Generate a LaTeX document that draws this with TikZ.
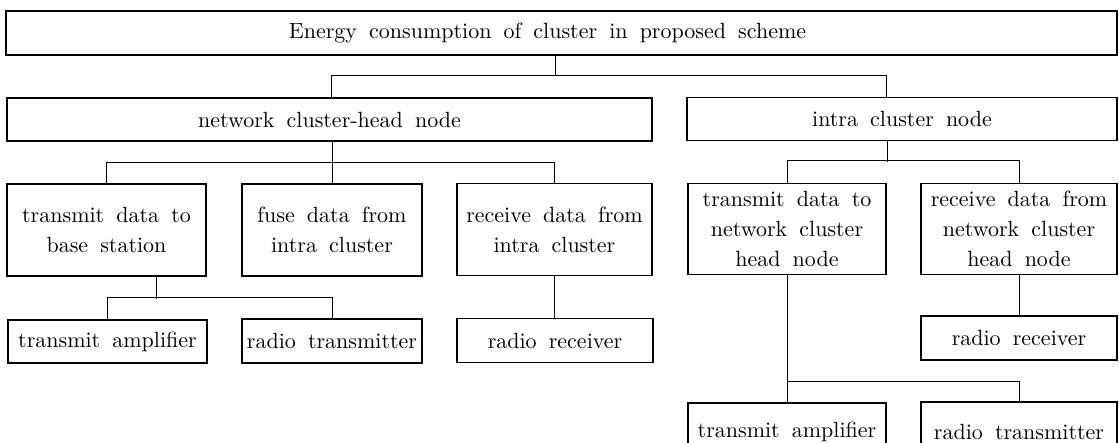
\documentclass[tikz,border=0pt]{standalone}
\usepackage{fontspec}
\setmainfont{lmroman10-regular.otf}
\usetikzlibrary{calc}
\newcommand\boxfont{\fontsize{22}{30}\selectfont\spaceskip=0.55em plus 0.1em minus 0.05em\relax}
\begin{document}
\begin{tikzpicture}[x=1pt,y=-1pt, line width=1.1pt,
  box/.style={draw, inner sep=0pt, align=center, font=\boxfont},
  conn/.style={draw, line width=1pt}]
\useasboundingbox (0,0) rectangle (1119,443);
\fill[white] (0,0) rectangle (1119,443);
% boxes
\node[box, minimum width=1111pt, minimum height=44pt] (top) at (561.5,33) {\hspace*{-28pt}Energy consumption of cluster in proposed scheme};
\node[box, minimum width=645pt, minimum height=43pt] (nch) at (329.5,119.5) {network cluster-head node};
\node[box, minimum width=430pt, minimum height=43pt] (intra) at (902,119) {intra cluster node};
\node[box, minimum width=199pt, minimum height=92pt] (tdb) at (106.5,230) {transmit data to\\base station};
\node[box, minimum width=180pt, minimum height=92pt] (fuse) at (332,230) {fuse data from\\intra cluster};
\node[box, minimum width=195pt, minimum height=92pt] (recv) at (554.5,229.5) {receive data from\\intra cluster};
\node[box, minimum width=198pt, minimum height=91pt] (tdn) at (787,229) {transmit data to\\network cluster\\head node};
\node[box, minimum width=196pt, minimum height=91pt] (rdn) at (1019,229) {receive data from\\network cluster\\head node};
\node[box, minimum width=199pt, minimum height=43pt] (ta1) at (107.5,341.5) {transmit amplifier};
\node[box, minimum width=180pt, minimum height=44pt] (rt1) at (332,341) {radio transmitter};
\node[box, minimum width=196pt, minimum height=44pt] (rr1) at (555,340.5) {radio receiver};
\node[box, minimum width=196pt, minimum height=44pt] (rr2) at (1019,338) {radio receiver};
\node[box, minimum width=198pt, minimum height=58pt] (ta2) at (787,432) {transmit amplifier};
\node[box, minimum width=196pt, minimum height=60pt] (rt2) at (1019,432) {radio transmitter};
% connectors
\draw[conn] ([xshift=-6.5pt]top.south) -- ++(0,20) coordinate (j0);
\draw[conn] ([xshift=1.5pt]nch.north) |- (j0) -| ([xshift=-16pt]intra.north);
\draw[conn] (nch.south -| fuse.north) -- (fuse.north);
\draw[conn] (tdb.north) -- ++(0,-21) -| (recv.north);
\draw[conn] ([xshift=-15pt]intra.south) -- ++(0,21);
\draw[conn] (tdn.north) -- ++(0,-22) -| (rdn.north);
\draw[conn] ([xshift=49.5pt]tdb.south) -- ++(0,22);
\draw[conn] (ta1.north) -- ++(0,-21.5) -| (rt1.north);
\draw[conn] (recv.south) -- (recv.south |- rr1.north);
\draw[conn] (rdn.south) -- (rr2.north);
\draw[conn] (tdn.south) -- (ta2.north);
\draw[conn] (tdn.south) ++(0,106) -| (rt2.north);
\end{tikzpicture}
\end{document}
